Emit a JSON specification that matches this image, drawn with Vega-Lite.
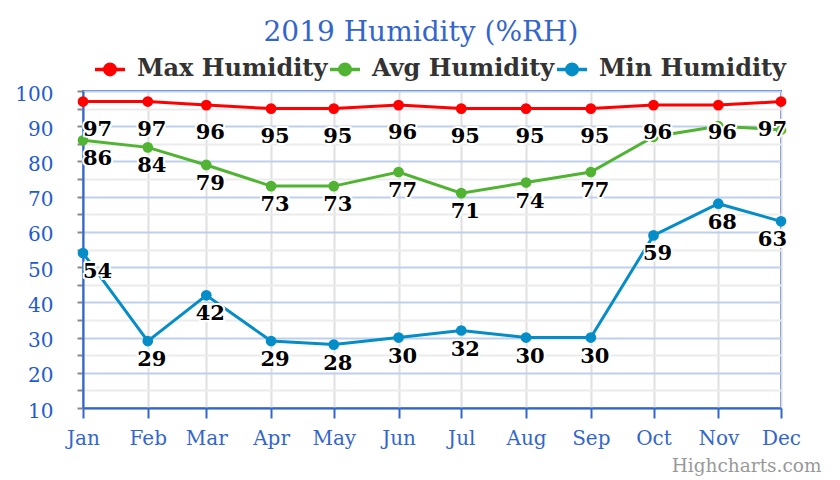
{
  "$schema": "https://vega.github.io/schema/vega-lite/v6.json",
  "width": 698,
  "height": 317,
  "autosize": {"type": "none"},
  "padding": {"left": 83, "top": 91, "right": 59, "bottom": 72},
  "background": "white",
  "title": {
    "text": "2019 Humidity (%RH)",
    "font": "DejaVu Serif",
    "fontSize": 28,
    "fontWeight": "normal",
    "color": "#3366cc",
    "anchor": "middle",
    "offset": 5,
    "dx": -11
  },
  "data": {
    "values": [
      {"month": "2019-01-01", "series": "Max Humidity", "value": 97},
      {"month": "2019-02-01", "series": "Max Humidity", "value": 97},
      {"month": "2019-03-01", "series": "Max Humidity", "value": 96},
      {"month": "2019-04-01", "series": "Max Humidity", "value": 95},
      {"month": "2019-05-01", "series": "Max Humidity", "value": 95},
      {"month": "2019-06-01", "series": "Max Humidity", "value": 96},
      {"month": "2019-07-01", "series": "Max Humidity", "value": 95},
      {"month": "2019-08-01", "series": "Max Humidity", "value": 95},
      {"month": "2019-09-01", "series": "Max Humidity", "value": 95},
      {"month": "2019-10-01", "series": "Max Humidity", "value": 96},
      {"month": "2019-11-01", "series": "Max Humidity", "value": 96},
      {"month": "2019-12-01", "series": "Max Humidity", "value": 97},
      {"month": "2019-01-01", "series": "Avg Humidity", "value": 86},
      {"month": "2019-02-01", "series": "Avg Humidity", "value": 84},
      {"month": "2019-03-01", "series": "Avg Humidity", "value": 79},
      {"month": "2019-04-01", "series": "Avg Humidity", "value": 73},
      {"month": "2019-05-01", "series": "Avg Humidity", "value": 73},
      {"month": "2019-06-01", "series": "Avg Humidity", "value": 77},
      {"month": "2019-07-01", "series": "Avg Humidity", "value": 71},
      {"month": "2019-08-01", "series": "Avg Humidity", "value": 74},
      {"month": "2019-09-01", "series": "Avg Humidity", "value": 77},
      {"month": "2019-10-01", "series": "Avg Humidity", "value": 87},
      {"month": "2019-11-01", "series": "Avg Humidity", "value": 90},
      {"month": "2019-12-01", "series": "Avg Humidity", "value": 89},
      {"month": "2019-01-01", "series": "Min Humidity", "value": 54},
      {"month": "2019-02-01", "series": "Min Humidity", "value": 29},
      {"month": "2019-03-01", "series": "Min Humidity", "value": 42},
      {"month": "2019-04-01", "series": "Min Humidity", "value": 29},
      {"month": "2019-05-01", "series": "Min Humidity", "value": 28},
      {"month": "2019-06-01", "series": "Min Humidity", "value": 30},
      {"month": "2019-07-01", "series": "Min Humidity", "value": 32},
      {"month": "2019-08-01", "series": "Min Humidity", "value": 30},
      {"month": "2019-09-01", "series": "Min Humidity", "value": 30},
      {"month": "2019-10-01", "series": "Min Humidity", "value": 59},
      {"month": "2019-11-01", "series": "Min Humidity", "value": 68},
      {"month": "2019-12-01", "series": "Min Humidity", "value": 63}
    ]
  },
  "encoding": {
    "x": {
      "field": "month",
      "type": "temporal",
      "timeUnit": "utcyearmonth",
      "scale": {"nice": false},
      "axis": {
        "tickCount": "month",
        "labelExpr": "utcFormat(datum.value, '%b')",
        "labelFlush": false,
        "labelOverlap": false,
        "labelFont": "DejaVu Serif",
        "labelFontSize": 20,
        "labelColor": "#3366cc",
        "labelPadding": 10,
        "tickSize": 10,
        "tickWidth": 2,
        "tickColor": "#3366cc",
        "domainColor": "#3366cc",
        "domainWidth": 2,
        "grid": true,
        "gridColor": "#e0e0e0",
        "gridWidth": 2,
        "title": "Highcharts.com",
        "titleFont": "DejaVu Serif",
        "titleFontSize": 18.5,
        "titleFontWeight": "normal",
        "titleColor": "#999999",
        "titleAlign": "right",
        "titleBaseline": "alphabetic",
        "titleX": 738,
        "titleY": 63
      }
    },
    "y": {
      "field": "value",
      "type": "quantitative",
      "scale": {"domain": [10, 100], "nice": false, "zero": false},
      "axis": {
        "values": [10, 15, 20, 25, 30, 35, 40, 45, 50, 55, 60, 65, 70, 75, 80, 85, 90, 95, 100],
        "labelExpr": "datum.value % 10 === 0 ? datum.label : ''",
        "labelFont": "DejaVu Serif",
        "labelFontSize": 20,
        "labelColor": "#1f5bd0",
        "labelPadding": 24,
        "labelOffset": 3,
        "labelFlush": false,
        "labelOverlap": false,
        "tickSize": 6,
        "tickWidth": 2,
        "tickColor": "#888888",
        "domainColor": "#3366cc",
        "domainWidth": 2,
        "gridColor": {"condition": {"test": "datum.value % 10 === 0", "value": "#bfd0ee"}, "value": "#ebebeb"},
        "gridWidth": 2,
        "title": null
      }
    },
    "color": {
      "field": "series",
      "type": "nominal",
      "scale": {
        "domain": ["Max Humidity", "Avg Humidity", "Min Humidity"],
        "range": ["#ff0000", "#50b432", "#058dc7"]
      },
      "legend": {
        "title": null,
        "orient": "none",
        "direction": "horizontal",
        "legendX": 10,
        "legendY": -39,
        "padding": 0,
        "columnPadding": -6.5,
        "labelFont": "DejaVu Serif",
        "labelFontSize": 24,
        "labelFontWeight": "bold",
        "labelColor": "#333333",
        "labelOffset": 10,
        "labelLimit": 400,
        "symbolType": "M-1,0H1M0.35,0A0.35,0.35,0,1,1,-0.35,0A0.35,0.35,0,1,1,0.35,0",
        "symbolSize": 900,
        "symbolStrokeWidth": 3.5,
        "encode": {
          "symbols": {"update": {"fill": {"scale": "color", "field": "value"}}}
        }
      }
    }
  },
  "layer": [
    {
      "mark": {"type": "line", "strokeWidth": 3, "point": {"filled": true, "size": 115, "opacity": 1}}
    },
    {
      "transform": [{"filter": "!(datum.series === 'Avg Humidity' && utcmonth(toDate(datum.month)) >= 9)"}],
      "mark": {
        "type": "text",
        "font": "DejaVu Serif",
        "fontSize": 21,
        "fontWeight": "bold",
        "baseline": "middle",
        "stroke": "white",
        "strokeWidth": 4,
        "strokeJoin": "round",
        "fill": "white",
        "align": {"expr": "utcmonth(toDate(datum.month)) === 0 ? 'left' : (utcmonth(toDate(datum.month)) === 11 ? 'right' : 'center')"},
        "dx": {"expr": "utcmonth(toDate(datum.month)) === 0 ? 0 : (utcmonth(toDate(datum.month)) === 11 ? 6 : 4)"},
        "dy": {"expr": "datum.series === 'Max Humidity' ? 28 : 19"}
      },
      "encoding": {"text": {"field": "value"}, "color": {"value": "white"}}
    },
    {
      "transform": [{"filter": "!(datum.series === 'Avg Humidity' && utcmonth(toDate(datum.month)) >= 9)"}],
      "mark": {
        "type": "text",
        "font": "DejaVu Serif",
        "fontSize": 21,
        "fontWeight": "bold",
        "baseline": "middle",
        "align": {"expr": "utcmonth(toDate(datum.month)) === 0 ? 'left' : (utcmonth(toDate(datum.month)) === 11 ? 'right' : 'center')"},
        "dx": {"expr": "utcmonth(toDate(datum.month)) === 0 ? 0 : (utcmonth(toDate(datum.month)) === 11 ? 6 : 4)"},
        "dy": {"expr": "datum.series === 'Max Humidity' ? 28 : 19"}
      },
      "encoding": {"text": {"field": "value"}, "color": {"value": "black"}}
    }
  ],
  "config": {
    "view": {"stroke": "#3366cc", "strokeWidth": 2}
  }
}
